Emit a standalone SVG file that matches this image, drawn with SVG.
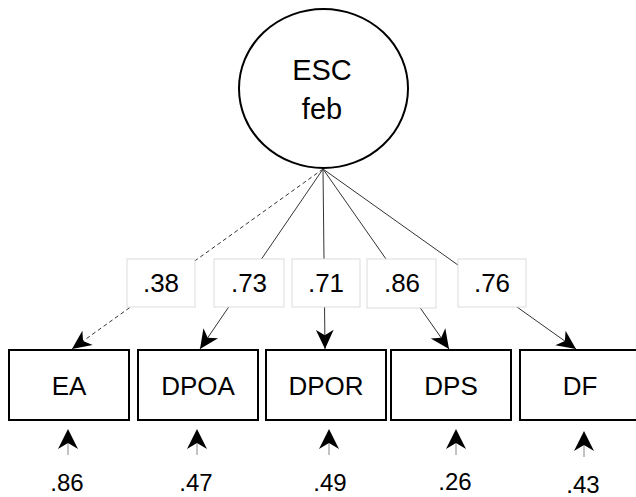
<svg xmlns="http://www.w3.org/2000/svg" width="636" height="497" viewBox="0 0 636 497">
<style>
  .t { font-family: "Liberation Sans", Arial, sans-serif; fill: #000; text-anchor: middle; }
  .node { fill: #fff; stroke: #000; stroke-width: 2; }
  .lbl { fill: #fff; stroke: #dcdcdc; stroke-width: 1; }
  .load { stroke: #333; stroke-width: 1; fill: none; marker-end: url(#ah); }
  .dash { stroke-dasharray: 4 3; }
  .err { stroke: #888; stroke-width: 1; fill: none; }
  .errhead { fill: #000; }
</style>
<defs>
  <marker id="ah" markerUnits="userSpaceOnUse" orient="auto" refX="0" refY="0" markerWidth="30" markerHeight="30" viewBox="-20 -10 22 20" overflow="visible">
    <path d="M0,0 L-14,-6.5 L-10,0 L-14,6.5 Z" fill="#000" stroke="none"/>
  </marker>
</defs>
<rect width="636" height="497" fill="#fff"/>

<g id="connectors">
  <line class="load dash" x1="323" y1="169" x2="72" y2="349"/>
  <line class="load" x1="323" y1="169" x2="200" y2="349"/>
  <line class="load" x1="323" y1="169" x2="325" y2="349"/>
  <line class="load" x1="323" y1="169" x2="449" y2="349"/>
  <line class="load" x1="323" y1="169" x2="576" y2="349"/>
</g>

<g id="labels">
  <rect class="lbl" x="127" y="259" width="68" height="48"/>
  <text class="t" x="161" y="292" font-size="26">.38</text>
  <rect class="lbl" x="214" y="259" width="70" height="48"/>
  <text class="t" x="249" y="292" font-size="26">.73</text>
  <rect class="lbl" x="292" y="259" width="68" height="48"/>
  <text class="t" x="326" y="292" font-size="26">.71</text>
  <rect class="lbl" x="367" y="259" width="69" height="49"/>
  <text class="t" x="402" y="292" font-size="26">.86</text>
  <rect class="lbl" x="458" y="259" width="68" height="48"/>
  <text class="t" x="492" y="292" font-size="26">.76</text>
</g>

<g id="ESC">
  <ellipse class="node" cx="323.5" cy="88.5" rx="84.5" ry="79.5"/>
  <text class="t" x="322" y="80" font-size="29">ESC</text>
  <text class="t" x="322" y="119" font-size="29">feb</text>
</g>

<g id="EA">
  <rect class="node" x="9" y="350" width="120" height="70"/>
  <text class="t" x="69" y="395" font-size="26">EA</text>
</g>
<g id="DPOA">
  <rect class="node" x="138" y="350" width="120" height="70"/>
  <text class="t" x="198" y="395" font-size="26">DPOA</text>
</g>
<g id="DPOR">
  <rect class="node" x="266" y="350" width="120" height="70"/>
  <text class="t" x="326" y="395" font-size="26">DPOR</text>
</g>
<g id="DPS">
  <rect class="node" x="391" y="350" width="120" height="70"/>
  <text class="t" x="451" y="395" font-size="26">DPS</text>
</g>
<g id="DF">
  <rect class="node" x="520" y="350" width="120" height="70"/>
  <text class="t" x="580" y="395" font-size="26">DF</text>
</g>

<g id="errors">
  <g id="e1">
    <line class="err" x1="68" y1="455" x2="68" y2="440"/>
    <path class="errhead" d="M68,429 L78,449 L68,443 L58,449 Z"/>
    <text class="t" x="67" y="491" font-size="24">.86</text>
  </g>
  <g id="e2">
    <line class="err" x1="197" y1="455" x2="197" y2="440"/>
    <path class="errhead" d="M197,429 L207,449 L197,443 L187,449 Z"/>
    <text class="t" x="196" y="491" font-size="24">.47</text>
  </g>
  <g id="e3">
    <line class="err" x1="329" y1="455" x2="329" y2="440"/>
    <path class="errhead" d="M329,429 L339,449 L329,443 L319,449 Z"/>
    <text class="t" x="330" y="491" font-size="24">.49</text>
  </g>
  <g id="e4">
    <line class="err" x1="456" y1="455" x2="456" y2="440"/>
    <path class="errhead" d="M456,429 L466,449 L456,443 L446,449 Z"/>
    <text class="t" x="455" y="490" font-size="24">.26</text>
  </g>
  <g id="e5">
    <line class="err" x1="584" y1="457" x2="584" y2="440"/>
    <path class="errhead" d="M584,431 L594,451 L584,445 L574,451 Z"/>
    <text class="t" x="583" y="493" font-size="24">.43</text>
  </g>
</g>
</svg>
